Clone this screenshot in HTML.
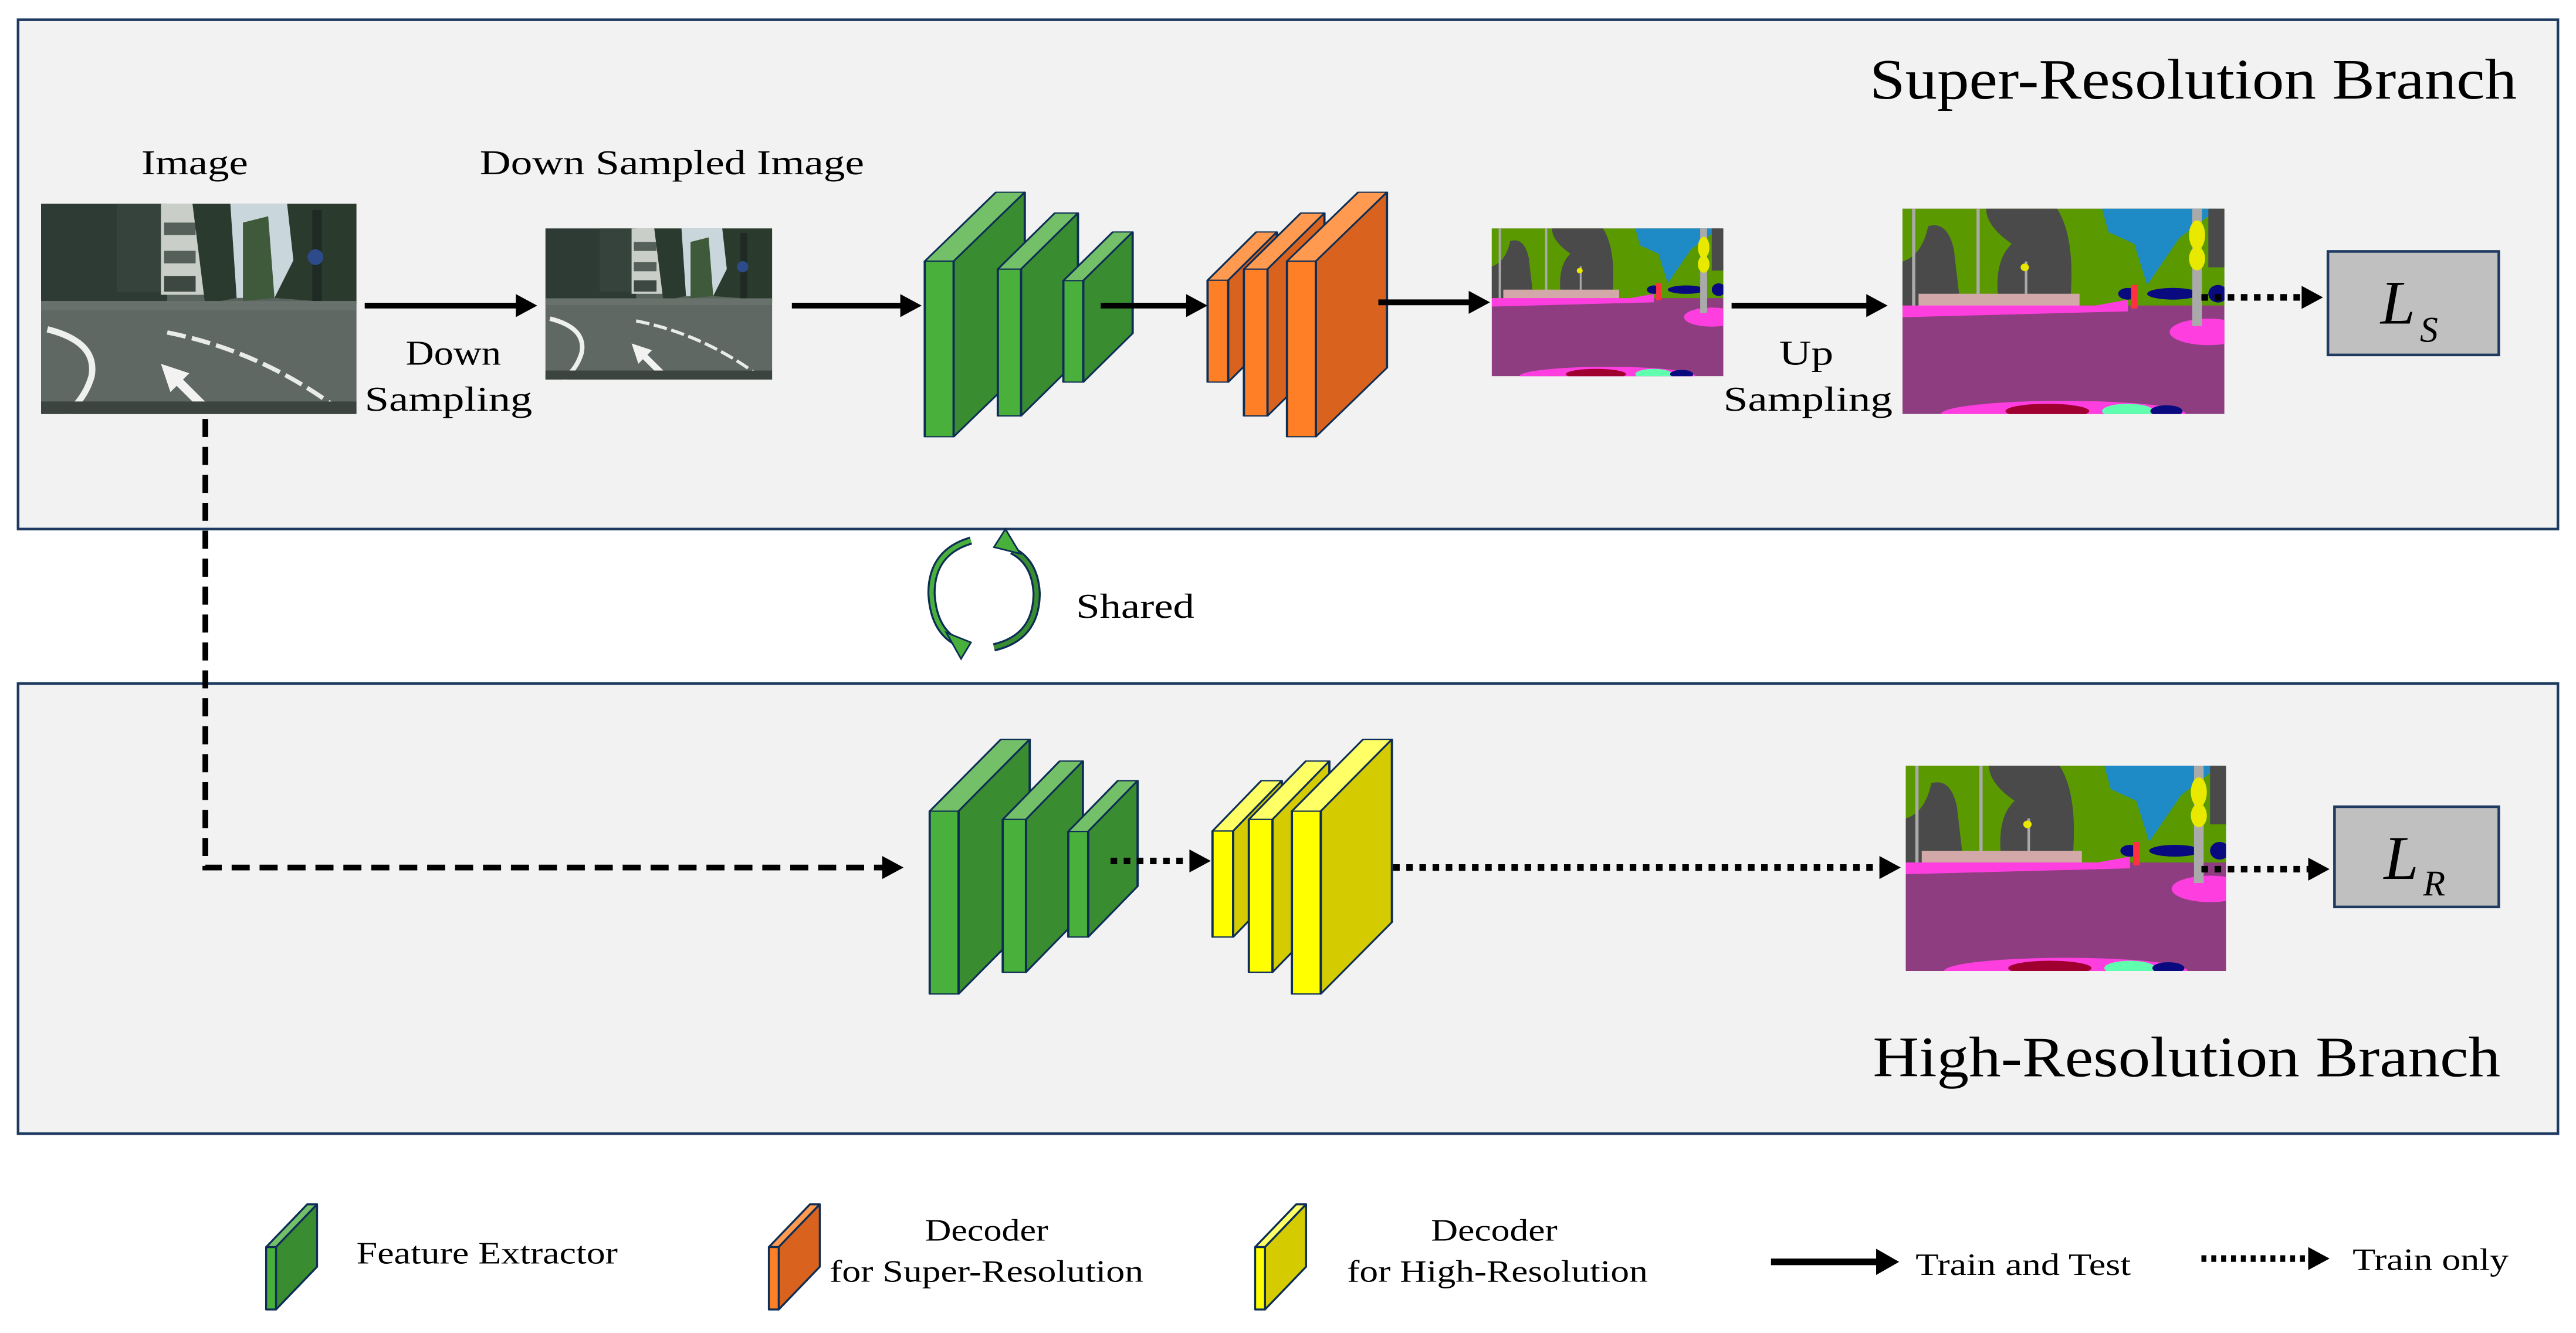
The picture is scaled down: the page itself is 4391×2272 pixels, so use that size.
<!DOCTYPE html>
<html><head><meta charset="utf-8"><style>
html,body{margin:0;padding:0;background:#fff;}
svg{display:block;}
text{font-family:"Liberation Serif",serif;fill:#000;}
</style></head><body>
<svg width="4391" height="2272" viewBox="0 0 1568 811.3" xmlns="http://www.w3.org/2000/svg">
<defs>
<symbol id="photo" viewBox="0 0 100 67" preserveAspectRatio="none">
<rect width="100" height="67" fill="#59635d"/>
<rect x="0" y="0" width="40" height="31" fill="#2e3b35"/>
<rect x="24" y="0" width="16" height="28" fill="#36433d"/>
<rect x="38" y="0" width="14" height="29" fill="#c9cec9"/>
<rect x="39" y="6" width="10" height="4" fill="#55605a"/>
<rect x="39" y="15" width="10" height="4" fill="#55605a"/>
<rect x="39" y="23" width="10" height="5" fill="#3d4843"/>
<rect x="60" y="0" width="24" height="30" fill="#c9d6dc"/>
<polygon points="48,0 60,0 62,30 52,32" fill="#2b3a2e"/>
<polygon points="64,6 72,4 74,30 64,31" fill="#3f5a3a"/>
<polygon points="78,0 100,0 100,32 74,30 80,18" fill="#2a3a2c"/>
<rect x="86" y="2" width="3" height="38" fill="#1f2a24"/>
<circle cx="87" cy="17" r="2.5" fill="#2d4a8a"/>
<rect x="0" y="31" width="100" height="36" fill="#5f6862"/>
<rect x="0" y="31" width="100" height="3" fill="#68716b"/>
<path d="M2 40 Q18 44 16 55 Q14 62 8 67" stroke="#eef0ee" stroke-width="2" fill="none"/>
<path d="M40 41 Q70 47 95 66" stroke="#e8ebe8" stroke-width="1.4" fill="none" stroke-dasharray="6 2"/>
<polygon points="38,51 47,54 45,56 52,63 49,64 43,58 41,60" fill="#f2f2f2"/>
<rect x="0" y="63" width="100" height="4" fill="#3c4440"/>
</symbol>
<symbol id="seg" viewBox="0 0 100 70" preserveAspectRatio="none">
<rect width="100" height="70" fill="#8e3e80"/>
<rect x="0" y="0" width="100" height="33" fill="#5a9a00"/>
<path d="M0 18 Q6 16 8 6 Q14 4 16 14 L18 33 L0 33Z" fill="#4a4a4a"/>
<path d="M26 0 L48 0 Q54 10 52 33 L30 33 Q28 18 34 12 Q26 6 26 0Z" fill="#4a4a4a"/>
<polygon points="62,0 98,0 86,10 76,26 72,12 64,8" fill="#1e8ac6"/>
<rect x="95" y="0" width="5" height="20" fill="#4a4a4a"/>
<rect x="3" y="0" width="1" height="35" fill="#aaa"/>
<rect x="23" y="0" width="1" height="33" fill="#aaa"/>
<rect x="38" y="18" width="0.8" height="15" fill="#aaa"/>
<circle cx="38" cy="20" r="1.3" fill="#e8e800"/>
<rect x="5" y="29" width="50" height="5" fill="#d2a8a8"/>
<polygon points="0,33 60,33 70,31 70,35 0,37" fill="#ff3ee0"/>
<ellipse cx="70" cy="29" rx="3" ry="2" fill="#0a0a80"/>
<ellipse cx="84" cy="29" rx="8" ry="2" fill="#0a0a80"/>
<ellipse cx="98" cy="29" rx="3" ry="3" fill="#0a0a80"/>
<rect x="71" y="26" width="2" height="8" fill="#ff3040"/>
<ellipse cx="95" cy="42" rx="12" ry="4.5" fill="#ff3ee0"/>
<rect x="90" y="0" width="3" height="40" fill="#aaa"/>
<ellipse cx="91.5" cy="9" rx="2.5" ry="5" fill="#e8e800"/>
<ellipse cx="91.5" cy="17" rx="2.5" ry="4" fill="#e8e800"/>
<ellipse cx="50" cy="70" rx="38" ry="4.5" fill="#ff3ee0"/>
<ellipse cx="45" cy="69" rx="13" ry="2.5" fill="#a00030"/>
<ellipse cx="70" cy="69" rx="8" ry="2.5" fill="#60ffb0"/>
<ellipse cx="82" cy="69" rx="5" ry="2" fill="#0a0a80"/>
</symbol>
</defs>

<!-- panels -->
<rect x="11" y="12" width="1546" height="310" fill="#f2f2f2" stroke="#1f3a60" stroke-width="1.6"/>
<rect x="11" y="416" width="1546" height="274" fill="#f2f2f2" stroke="#1f3a60" stroke-width="1.6"/>
<text x="1138" y="60" font-size="35" textLength="394" lengthAdjust="spacingAndGlyphs">Super-Resolution Branch</text>
<text x="1140" y="655" font-size="35" textLength="382" lengthAdjust="spacingAndGlyphs">High-Resolution Branch</text>

<!-- top row -->
<text x="86" y="106" font-size="21" textLength="65" lengthAdjust="spacingAndGlyphs">Image</text>
<use href="#photo" x="25" y="124" width="192" height="128"/>
<text x="292" y="106" font-size="21" textLength="234" lengthAdjust="spacingAndGlyphs">Down Sampled Image</text>
<use href="#photo" x="332" y="139" width="138" height="92"/>
<line x1="222" y1="186" x2="316" y2="186" stroke="#000" stroke-width="3.5"/>
<polygon points="314,179 327,186 314,193"/>
<text x="247" y="222" font-size="21" textLength="58" lengthAdjust="spacingAndGlyphs">Down</text>
<text x="222" y="250" font-size="21" textLength="102" lengthAdjust="spacingAndGlyphs">Sampling</text>
<line x1="482" y1="186" x2="550" y2="186" stroke="#000" stroke-width="3.5"/>
<polygon points="548,179 561,186 548,193"/>

<g transform="translate(536,95.2) scale(0.228,0.121)" stroke="#0d2d55" stroke-width="6" stroke-linejoin="round">
<polygon points="118,527 308,180 385,180 195,527" fill="#74c068"/>
<polygon points="195,527 385,180 385,1063 195,1410" fill="#3a8c30"/>
<rect x="118" y="527" width="77" height="883" fill="#4ab03c"/>
<polygon points="313,567 465,285 527,285 375,567" fill="#74c068"/>
<polygon points="375,567 527,285 527,1023 375,1305" fill="#3a8c30"/>
<rect x="313" y="567" width="62" height="738" fill="#4ab03c"/>
<polygon points="488,625 620,380 673,380 541,625" fill="#74c068"/>
<polygon points="541,625 673,380 673,890 541,1135" fill="#3a8c30"/>
<rect x="488" y="625" width="53" height="510" fill="#4ab03c"/>
<polygon points="873,623 1003,380 1058,380 928,623" fill="#ff9a50"/>
<polygon points="928,623 1058,380 1058,892 928,1135" fill="#d9631e"/>
<rect x="873" y="623" width="55" height="512" fill="#fe7f25"/>
<polygon points="970,567 1122,285 1185,285 1033,567" fill="#ff9a50"/>
<polygon points="1033,567 1185,285 1185,1023 1033,1305" fill="#d9631e"/>
<rect x="970" y="567" width="63" height="738" fill="#fe7f25"/>
<polygon points="1085,527 1275,180 1352,180 1162,527" fill="#ff9a50"/>
<polygon points="1162,527 1352,180 1352,1063 1162,1410" fill="#d9631e"/>
<rect x="1085" y="527" width="77" height="883" fill="#fe7f25"/>
</g>
<line x1="670" y1="186" x2="724" y2="186" stroke="#000" stroke-width="3.5"/>
<polygon points="722,179 735,186 722,193"/>
<line x1="839" y1="184" x2="896" y2="184" stroke="#000" stroke-width="3.5"/>
<polygon points="894,177 907,184 894,191"/>

<use href="#seg" x="908" y="139" width="141" height="90"/>
<line x1="1054" y1="186" x2="1138" y2="186" stroke="#000" stroke-width="3.5"/>
<polygon points="1136,179 1149,186 1136,193"/>
<text x="1083" y="222" font-size="21" textLength="33" lengthAdjust="spacingAndGlyphs">Up</text>
<text x="1049" y="250" font-size="21" textLength="103" lengthAdjust="spacingAndGlyphs">Sampling</text>
<use href="#seg" x="1158" y="127" width="196" height="125"/>
<line x1="1340" y1="181" x2="1402" y2="181" stroke="#000" stroke-width="4" stroke-dasharray="4 4"/>
<polygon points="1401,174 1414,181 1401,188"/>
<rect x="1417" y="153" width="104" height="63" fill="#c0c0c0" stroke="#1f3a60" stroke-width="1.6"/>
<text x="1449" y="197" font-size="38" font-style="italic">L</text>
<text x="1473" y="208" font-size="22" font-style="italic">S</text>

<!-- shared -->
<path d="M591 329 Q567 336 567 361 Q568 382 581 390" fill="none" stroke="#0d2d55" stroke-width="5"/>
<path d="M591 329 Q567 336 567 361 Q568 382 581 390" fill="none" stroke="#4ab03c" stroke-width="2.6"/>
<polygon points="576,385 591,391 585,401" fill="#4ab03c" stroke="#0d2d55" stroke-width="1"/>
<path d="M605 394 Q631 388 631 361 Q630 342 616 335" fill="none" stroke="#0d2d55" stroke-width="5"/>
<path d="M605 394 Q631 388 631 361 Q630 342 616 335" fill="none" stroke="#3a8c30" stroke-width="2.6"/>
<polygon points="605,333 621,337 612,322" fill="#4ab03c" stroke="#0d2d55" stroke-width="1"/>
<text x="655" y="376" font-size="21" textLength="72" lengthAdjust="spacingAndGlyphs">Shared</text>

<!-- bottom row -->
<path d="M125 255 L125 528 L538 528" fill="none" stroke="#000" stroke-width="3.5" stroke-dasharray="11 6"/>
<polygon points="537,521 550,528 537,535"/>
<g transform="translate(539,427.3) scale(0.228,0.126)" stroke="#0d2d55" stroke-width="6" stroke-linejoin="round">
<polygon points="118,527 308,180 385,180 195,527" fill="#74c068"/>
<polygon points="195,527 385,180 385,1063 195,1410" fill="#3a8c30"/>
<rect x="118" y="527" width="77" height="883" fill="#4ab03c"/>
<polygon points="313,567 465,285 527,285 375,567" fill="#74c068"/>
<polygon points="375,567 527,285 527,1023 375,1305" fill="#3a8c30"/>
<rect x="313" y="567" width="62" height="738" fill="#4ab03c"/>
<polygon points="488,625 620,380 673,380 541,625" fill="#74c068"/>
<polygon points="541,625 673,380 673,890 541,1135" fill="#3a8c30"/>
<rect x="488" y="625" width="53" height="510" fill="#4ab03c"/>
<polygon points="873,623 1003,380 1058,380 928,623" fill="#ffff66"/>
<polygon points="928,623 1058,380 1058,892 928,1135" fill="#d4cc00"/>
<rect x="873" y="623" width="55" height="512" fill="#ffff00"/>
<polygon points="970,567 1122,285 1185,285 1033,567" fill="#ffff66"/>
<polygon points="1033,567 1185,285 1185,1023 1033,1305" fill="#d4cc00"/>
<rect x="970" y="567" width="63" height="738" fill="#ffff00"/>
<polygon points="1085,527 1275,180 1352,180 1162,527" fill="#ffff66"/>
<polygon points="1162,527 1352,180 1352,1063 1162,1410" fill="#d4cc00"/>
<rect x="1085" y="527" width="77" height="883" fill="#ffff00"/>
</g>
<line x1="676" y1="524" x2="725" y2="524" stroke="#000" stroke-width="4" stroke-dasharray="4 4"/>
<polygon points="724,517 737,524 724,531"/>
<line x1="848" y1="528" x2="1145" y2="528" stroke="#000" stroke-width="4" stroke-dasharray="4 4"/>
<polygon points="1144,521 1157,528 1144,535"/>
<use href="#seg" x="1160" y="466" width="195" height="125"/>
<line x1="1340" y1="529" x2="1406" y2="529" stroke="#000" stroke-width="4" stroke-dasharray="4 4"/>
<polygon points="1405,522 1418,529 1405,536"/>
<rect x="1421" y="491" width="100" height="61" fill="#c0c0c0" stroke="#1f3a60" stroke-width="1.6"/>
<text x="1451" y="535" font-size="38" font-style="italic">L</text>
<text x="1475" y="545" font-size="22" font-style="italic">R</text>

<!-- legend -->
<g stroke="#0d2d55" stroke-width="1.2" stroke-linejoin="round">
<polygon points="162,759 187,733 193,733 168,759" fill="#74c068"/>
<polygon points="168,759 193,733 193,771 168,797" fill="#3a8c30"/>
<rect x="162" y="759" width="6" height="38" fill="#4ab03c"/>
<polygon points="468,759 493,733 499,733 474,759" fill="#ff9a50"/>
<polygon points="474,759 499,733 499,771 474,797" fill="#d9631e"/>
<rect x="468" y="759" width="6" height="38" fill="#fe7f25"/>
<polygon points="764,759 789,733 795,733 770,759" fill="#ffff66"/>
<polygon points="770,759 795,733 795,771 770,797" fill="#d4cc00"/>
<rect x="764" y="759" width="6" height="38" fill="#ffff00"/>
</g>
<text x="217" y="769" font-size="19" textLength="159" lengthAdjust="spacingAndGlyphs">Feature Extractor</text>
<text x="563" y="755" font-size="19" textLength="75" lengthAdjust="spacingAndGlyphs">Decoder</text>
<text x="505" y="780" font-size="19" textLength="191" lengthAdjust="spacingAndGlyphs">for Super-Resolution</text>
<text x="871" y="755" font-size="19" textLength="77" lengthAdjust="spacingAndGlyphs">Decoder</text>
<text x="820" y="780" font-size="19" textLength="183" lengthAdjust="spacingAndGlyphs">for High-Resolution</text>
<line x1="1078" y1="768" x2="1144" y2="768" stroke="#000" stroke-width="4"/>
<polygon points="1142,760 1156,768 1142,776"/>
<text x="1166" y="776" font-size="19" textLength="131" lengthAdjust="spacingAndGlyphs">Train and Test</text>
<line x1="1340" y1="766" x2="1406" y2="766" stroke="#000" stroke-width="4" stroke-dasharray="3 3"/>
<polygon points="1405,759 1418,766 1405,773"/>
<text x="1432" y="773" font-size="19" textLength="95" lengthAdjust="spacingAndGlyphs">Train only</text>
</svg>
</body></html>
